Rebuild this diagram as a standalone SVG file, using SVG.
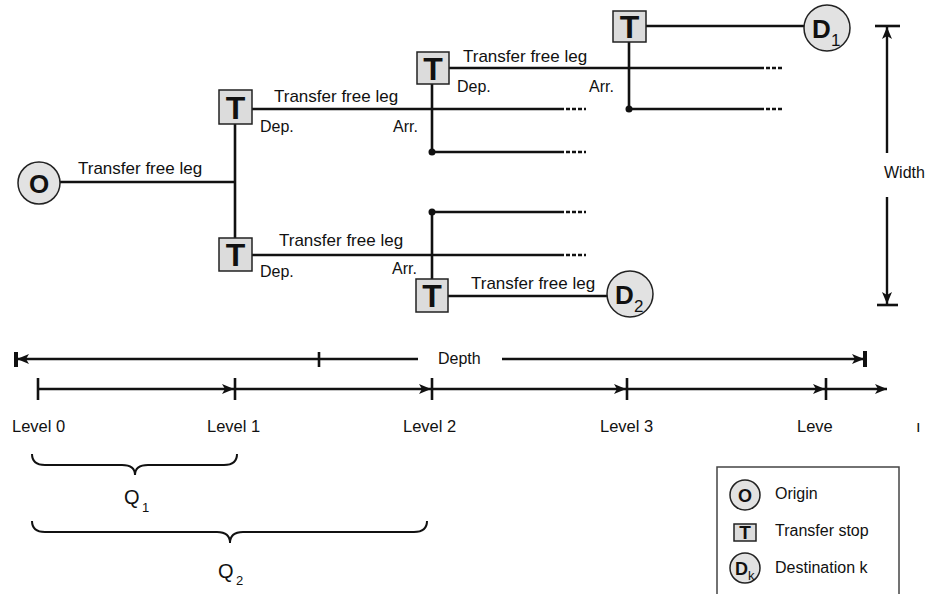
<svg xmlns="http://www.w3.org/2000/svg" width="933" height="594" viewBox="0 0 933 594">
<style>
  text { font-family: "Liberation Sans", Arial, sans-serif; fill: #111; }
  .lbl { font-size: 17px; }
  .lv { font-size: 16.5px; }
  .sm { font-size: 16px; }
  .big { font-size: 32px; font-weight: bold; }
  .cir { font-size: 26px; font-weight: bold; }
  .sub { font-size: 17px; }
  .q { font-size: 20px; }
  .qs { font-size: 13px; }
  .box { fill: #dcdcdc; stroke: #222; stroke-width: 1.5; }
  .node { fill: #e2e2e2; stroke: #222; stroke-width: 1.5; }
  .leg { stroke: #111; stroke-width: 2.6; fill: none; }
  .dash { stroke: #111; stroke-width: 2.6; stroke-dasharray: 4 2; fill: none; }
  .ax { stroke: #111; stroke-width: 2.4; fill: none; }
  .tick { stroke: #111; stroke-width: 2.6; }
  .thick { stroke: #111; stroke-width: 4; }
  .brace { stroke: #111; stroke-width: 2; fill: none; }
</style>
<defs>
  <marker id="arr" viewBox="0 0 12 10" refX="12" refY="5" markerWidth="12" markerHeight="10" markerUnits="userSpaceOnUse" orient="auto">
    <path d="M0,0 L12,5 L0,10 L3,5 z" fill="#111"/>
  </marker>
</defs>
<rect width="933" height="594" fill="#fff"/>

<g id="connectors">
  <line class="leg" x1="60" y1="182" x2="236" y2="182"/>
  <line class="leg" x1="235" y1="124" x2="235" y2="238"/>
  <line class="leg" x1="252" y1="109" x2="560" y2="109"/>
  <line class="dash" x1="560" y1="109" x2="586" y2="109"/>
  <line class="leg" x1="252" y1="255" x2="560" y2="255"/>
  <line class="dash" x1="560" y1="255" x2="586" y2="255"/>
  <line class="leg" x1="432" y1="84" x2="432" y2="152"/>
  <line class="leg" x1="432" y1="152" x2="560" y2="152"/>
  <line class="dash" x1="560" y1="152" x2="586" y2="152"/>
  <circle cx="432" cy="152" r="3.5" fill="#111"/>
  <line class="leg" x1="449" y1="68" x2="760" y2="68"/>
  <line class="dash" x1="760" y1="68" x2="782" y2="68"/>
  <line class="leg" x1="629" y1="42" x2="629" y2="109"/>
  <line class="leg" x1="629" y1="109" x2="760" y2="109"/>
  <line class="dash" x1="760" y1="109" x2="782" y2="109"/>
  <circle cx="629" cy="109" r="3.5" fill="#111"/>
  <line class="leg" x1="646" y1="26" x2="805" y2="26"/>
  <line class="leg" x1="432" y1="212" x2="432" y2="279"/>
  <line class="leg" x1="432" y1="212" x2="560" y2="212"/>
  <line class="dash" x1="560" y1="212" x2="586" y2="212"/>
  <circle cx="432" cy="212" r="3.5" fill="#111"/>
  <line class="leg" x1="448" y1="296" x2="608" y2="296"/>
</g>

<g id="leg-labels">
  <text class="lbl" x="78" y="174">Transfer free leg</text>
  <text class="lbl" x="274" y="102">Transfer free leg</text>
  <text class="sm" x="260" y="132">Dep.</text>
  <text class="lbl" x="279" y="246">Transfer free leg</text>
  <text class="sm" x="260" y="277">Dep.</text>
  <text class="sm" x="393" y="132">Arr.</text>
  <text class="lbl" x="463" y="62">Transfer free leg</text>
  <text class="sm" x="457" y="92">Dep.</text>
  <text class="sm" x="589" y="92">Arr.</text>
  <text class="sm" x="392" y="274">Arr.</text>
  <text class="lbl" x="471" y="289">Transfer free leg</text>
</g>

<g id="node-O">
  <circle class="node" cx="39" cy="183" r="21"/>
  <text class="cir" x="39" y="192.5" text-anchor="middle">O</text>
</g>
<g id="node-T1">
  <rect class="box" x="219" y="90" width="33" height="34"/>
  <text class="big" x="235.5" y="119" text-anchor="middle">T</text>
</g>
<g id="node-T2">
  <rect class="box" x="219" y="238" width="33" height="33"/>
  <text class="big" x="235.5" y="266" text-anchor="middle">T</text>
</g>
<g id="node-T3">
  <rect class="box" x="417" y="52" width="32" height="32"/>
  <text class="big" x="433" y="79.5" text-anchor="middle">T</text>
</g>
<g id="node-T4">
  <rect class="box" x="416" y="279" width="32" height="33"/>
  <text class="big" x="432" y="307" text-anchor="middle">T</text>
</g>
<g id="node-T5">
  <rect class="box" x="613" y="11" width="33" height="31"/>
  <text class="big" x="629.5" y="38" text-anchor="middle">T</text>
</g>
<g id="node-D1">
  <circle class="node" cx="827" cy="28" r="23"/>
  <text class="cir" x="812" y="38">D</text>
  <text class="sub" x="831" y="46">1</text>
</g>
<g id="node-D2">
  <circle class="node" cx="630" cy="294" r="23"/>
  <text class="cir" x="615" y="304">D</text>
  <text class="sub" x="634" y="312">2</text>
</g>

<g id="width-dim">
  <line class="ax" x1="887" y1="153" x2="887" y2="27" marker-end="url(#arr)"/>
  <line class="tick" x1="875" y1="26" x2="900" y2="26"/>
  <text class="sm" x="884" y="178">Width</text>
  <line class="ax" x1="887" y1="197" x2="887" y2="304" marker-end="url(#arr)"/>
  <line class="tick" x1="877" y1="305" x2="898" y2="305"/>
</g>

<g id="depth-dim">
  <line class="ax" x1="418" y1="359" x2="17" y2="359" marker-end="url(#arr)"/>
  <line class="thick" x1="16" y1="352" x2="16" y2="367"/>
  <line class="tick" x1="319" y1="352" x2="319" y2="367"/>
  <text class="sm" x="438" y="364">Depth</text>
  <line class="ax" x1="502" y1="359" x2="864" y2="359" marker-end="url(#arr)"/>
  <line class="thick" x1="865" y1="351" x2="865" y2="367"/>
</g>

<g id="level-axis">
  <line class="ax" x1="38" y1="389" x2="234" y2="389" marker-end="url(#arr)"/>
  <line class="ax" x1="235" y1="389" x2="431" y2="389" marker-end="url(#arr)"/>
  <line class="ax" x1="432" y1="389" x2="626" y2="389" marker-end="url(#arr)"/>
  <line class="ax" x1="627" y1="389" x2="825" y2="389" marker-end="url(#arr)"/>
  <line class="ax" x1="826" y1="389" x2="887" y2="389" marker-end="url(#arr)"/>
  <line class="tick" x1="38" y1="378" x2="38" y2="400"/>
  <line class="tick" x1="235" y1="378" x2="235" y2="400"/>
  <line class="tick" x1="432" y1="378" x2="432" y2="400"/>
  <line class="tick" x1="627" y1="378" x2="627" y2="400"/>
  <line class="tick" x1="826" y1="378" x2="826" y2="400"/>
  <text class="lv" x="12" y="432">Level 0</text>
  <text class="lv" x="207" y="432">Level 1</text>
  <text class="lv" x="403" y="432">Level 2</text>
  <text class="lv" x="600" y="432">Level 3</text>
  <text class="lv" x="797" y="432">Leve</text>
  <text class="lv" x="916" y="432">ı</text>
</g>

<g id="brace-Q1">
  <path class="brace" d="M32,454 Q32,465 45,465 L122,465 Q135,465 135,475 Q135,465 148,465 L224,465 Q237,465 237,454"/>
  <text class="q" x="124" y="504">Q</text>
  <text class="qs" x="142" y="512">1</text>
</g>
<g id="brace-Q2">
  <path class="brace" d="M32,521 Q32,532 45,532 L217,532 Q230,532 230,543 Q230,532 243,532 L414,532 Q427,532 427,521"/>
  <text class="q" x="218" y="578">Q</text>
  <text class="qs" x="236" y="585">2</text>
</g>

<g id="legend">
  <rect x="717" y="467" width="182" height="140" fill="none" stroke="#444" stroke-width="1.5"/>
  <circle class="node" cx="745" cy="495" r="15"/>
  <text x="745" y="501.5" text-anchor="middle" style="font-size:18px;font-weight:bold">O</text>
  <text class="sm" x="775" y="499">Origin</text>
  <rect class="box" x="734" y="524" width="22" height="17"/>
  <text x="745" y="539" text-anchor="middle" style="font-size:19px;font-weight:bold">T</text>
  <text class="sm" x="775" y="536">Transfer stop</text>
  <circle class="node" cx="745" cy="568" r="15"/>
  <text x="735" y="575" style="font-size:18px;font-weight:bold">D</text>
  <text x="748" y="580" style="font-size:13px">k</text>
  <text class="sm" x="775" y="573">Destination k</text>
</g>
</svg>
